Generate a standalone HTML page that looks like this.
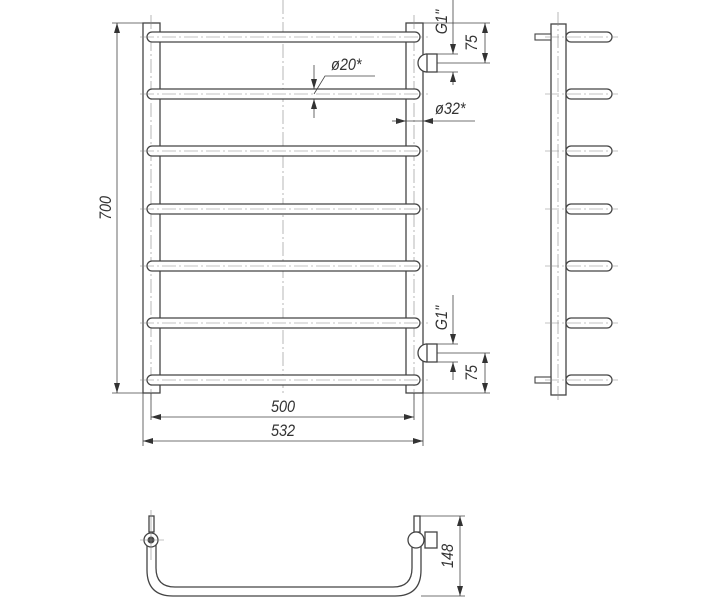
<!DOCTYPE html>
<html><head><meta charset="utf-8"><style>
body{margin:0;background:#fff}
svg{display:block}
text{font-family:"Liberation Sans",sans-serif;font-style:italic;fill:#333;font-size:17px}
</style></head><body>
<svg width="712" height="600" viewBox="0 0 712 600" xmlns="http://www.w3.org/2000/svg">
<defs>
<marker id="a" viewBox="0 0 10 6" refX="10" refY="3" markerWidth="10" markerHeight="6" orient="auto-start-reverse" markerUnits="userSpaceOnUse"><path d="M0,0L10,3L0,6z" fill="#333"/></marker>
<g id="bar"><rect x="147" y="-5" width="273" height="10" rx="5" fill="#fff" stroke="#444" stroke-width="1.3"/><line x1="140" y1="0" x2="428" y2="0" stroke="#888" stroke-width="0.6" stroke-dasharray="14 3 2 3"/></g>
<g id="sbar"><rect x="566" y="-5" width="46" height="10" rx="5" fill="#fff" stroke="#444" stroke-width="1.3"/><line x1="545" y1="0" x2="618" y2="0" stroke="#888" stroke-width="0.6" stroke-dasharray="14 3 2 3"/></g>
<g id="fit"><path d="M427,-9 A9,9 0 0 0 427,9" fill="#fff" stroke="#444" stroke-width="1.3"/><rect x="427" y="-9" width="10" height="18" fill="#fff" stroke="#444" stroke-width="1.3"/><line x1="427" y1="-9" x2="427" y2="9" stroke="#444"/></g>
</defs>
<g stroke="#444" fill="none" stroke-width="1.3">
<rect x="143" y="23" width="17" height="370"/>
<rect x="406" y="23" width="17" height="370"/>
</g>
<g stroke="#888" stroke-width="0.6" stroke-dasharray="14 3 2 3">
<line x1="151" y1="15" x2="151" y2="400"/><line x1="414" y1="15" x2="414" y2="400"/>
<line x1="283" y1="0" x2="283" y2="395"/>
</g>
<use href="#bar" y="37"/><use href="#bar" y="94"/><use href="#bar" y="151"/><use href="#bar" y="209"/><use href="#bar" y="266"/><use href="#bar" y="323"/><use href="#bar" y="380"/>
<use href="#fit" y="63"/><use href="#fit" y="353"/>
<g stroke="#444" stroke-width="0.8" fill="none">
<line x1="112" y1="23" x2="143" y2="23"/><line x1="112" y1="393" x2="143" y2="393"/>
<line x1="117" y1="23" x2="117" y2="393" marker-start="url(#a)" marker-end="url(#a)"/>
<line x1="151" y1="393" x2="151" y2="420"/><line x1="414" y1="393" x2="414" y2="420"/>
<line x1="143" y1="393" x2="143" y2="446"/><line x1="423" y1="393" x2="423" y2="446"/>
<line x1="151" y1="417" x2="414" y2="417" marker-start="url(#a)" marker-end="url(#a)"/>
<line x1="143" y1="441" x2="423" y2="441" marker-start="url(#a)" marker-end="url(#a)"/>
<line x1="423" y1="23" x2="490" y2="23"/><line x1="437" y1="63" x2="490" y2="63"/>
<line x1="485" y1="23" x2="485" y2="63" marker-start="url(#a)" marker-end="url(#a)"/>
<line x1="437" y1="54" x2="458" y2="54"/><line x1="437" y1="72" x2="458" y2="72"/>
<line x1="453" y1="0" x2="453" y2="54" marker-end="url(#a)"/><line x1="453" y1="85" x2="453" y2="72" marker-end="url(#a)"/>
<line x1="423" y1="393" x2="490" y2="393"/><line x1="437" y1="353" x2="490" y2="353"/>
<line x1="485" y1="353" x2="485" y2="393" marker-start="url(#a)" marker-end="url(#a)"/>
<line x1="437" y1="344" x2="458" y2="344"/><line x1="437" y1="362" x2="458" y2="362"/>
<line x1="453" y1="295" x2="453" y2="344" marker-end="url(#a)"/><line x1="453" y1="380" x2="453" y2="362" marker-end="url(#a)"/>
<line x1="314" y1="65" x2="314" y2="89" marker-end="url(#a)"/><line x1="314" y1="118" x2="314" y2="99" marker-end="url(#a)"/>
<polyline points="314,94 325,76 375,76"/>
<line x1="392" y1="121" x2="406" y2="121" marker-end="url(#a)"/><line x1="475" y1="121" x2="423" y2="121" marker-end="url(#a)"/>
<line x1="406" y1="121" x2="423" y2="121"/>
</g>
<text transform="translate(283,412) scale(0.85,1)" text-anchor="middle">500</text>
<text transform="translate(283,436) scale(0.85,1)" text-anchor="middle">532</text>
<text transform="translate(111,208) rotate(-90) scale(0.85,1)" text-anchor="middle">700</text>
<text transform="translate(477,43) rotate(-90) scale(0.85,1)" text-anchor="middle">75</text>
<text transform="translate(477,373) rotate(-90) scale(0.85,1)" text-anchor="middle">75</text>
<text transform="translate(447,22) rotate(-90) scale(0.85,1)" text-anchor="middle" font-size="15">G1"</text>
<text transform="translate(447,318) rotate(-90) scale(0.85,1)" text-anchor="middle" font-size="15">G1"</text>
<text transform="translate(331,70) scale(0.85,1)" font-size="17">ø20*</text>
<text transform="translate(435,114) scale(0.85,1)" font-size="17">ø32*</text>
<rect x="551" y="24" width="15" height="371" fill="#fff" stroke="#444" stroke-width="1.3"/>
<line x1="558" y1="12" x2="558" y2="400" stroke="#888" stroke-width="0.6" stroke-dasharray="14 3 2 3"/>
<rect x="535" y="34" width="16" height="6" fill="#fff" stroke="#444" stroke-width="1.1"/>
<rect x="535" y="377" width="16" height="6" fill="#fff" stroke="#444" stroke-width="1.1"/>
<use href="#sbar" y="37"/><use href="#sbar" y="94"/><use href="#sbar" y="151"/><use href="#sbar" y="209"/><use href="#sbar" y="266"/><use href="#sbar" y="323"/><use href="#sbar" y="380"/>
<g stroke="#444" stroke-width="1.3" fill="none">
<path d="M147,540 L147,570 Q147,596 173,596 L395,596 Q421,596 421,570 L421,540"/>
<path d="M156,540 L156,568 Q156,587 175,587 L393,587 Q412,587 412,568 L412,540"/>
<rect x="149" y="516" width="5" height="16"/>
<rect x="414" y="516" width="6" height="16"/>
<circle cx="151" cy="540" r="7" fill="#fff"/>
<circle cx="416" cy="540" r="8" fill="#fff"/>
<rect x="425" y="532" width="12" height="16" fill="#fff"/>
</g>
<circle cx="151" cy="540" r="3.5" fill="#444"/>
<g stroke="#888" stroke-width="0.6"><line x1="151" y1="510" x2="151" y2="560"/><line x1="140" y1="540" x2="164" y2="540"/></g>
<g stroke="#444" stroke-width="0.8">
<line x1="420" y1="516" x2="465" y2="516"/><line x1="421" y1="596" x2="465" y2="596"/>
<line x1="460" y1="516" x2="460" y2="596" marker-start="url(#a)" marker-end="url(#a)"/>
</g>
<text transform="translate(453,556) rotate(-90) scale(0.85,1)" text-anchor="middle">148</text>
</svg>
</body></html>
